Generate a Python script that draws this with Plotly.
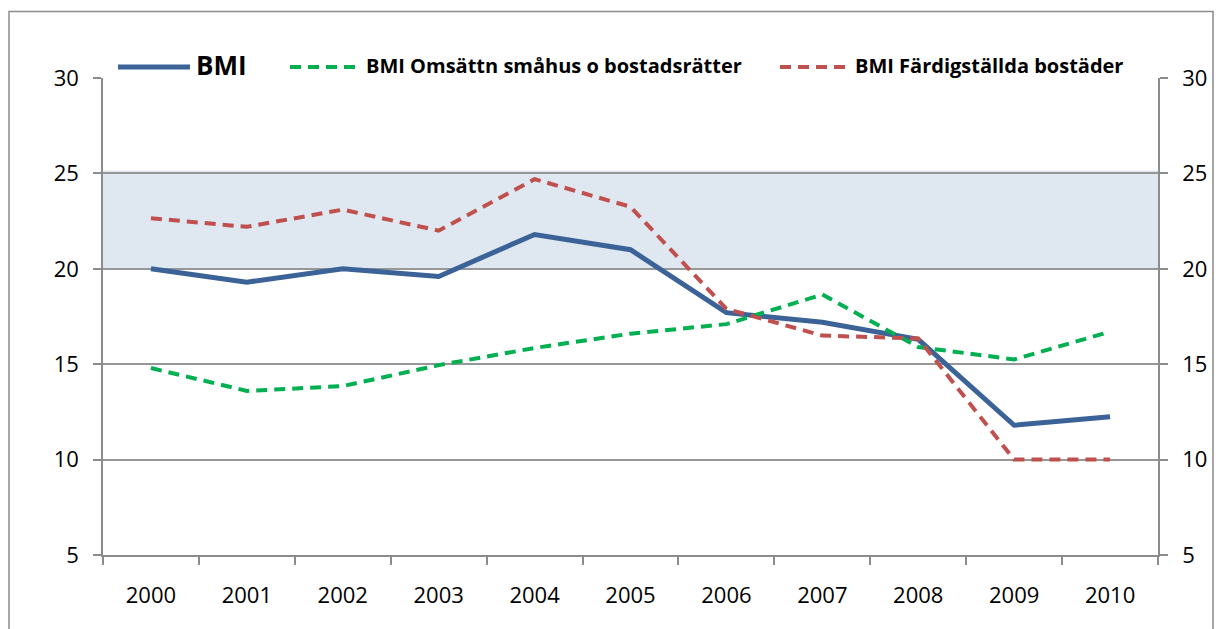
import plotly.graph_objects as go

years = ["2000", "2001", "2002", "2003", "2004", "2005", "2006", "2007", "2008", "2009", "2010"]
bmi = [20.0, 19.3, 20.0, 19.6, 21.8, 21.0, 17.7, 17.2, 16.3, 11.8, 12.25]
bmi_omsattn = [14.8, 13.6, 13.85, 14.95, 15.85, 16.6, 17.1, 18.65, 15.9, 15.25, 16.7]
bmi_fardig = [22.65, 22.2, 23.1, 22.0, 24.7, 23.25, 17.9, 16.5, 16.35, 10.0, 10.0]
band_low, band_high = 20.0, 25.15
y_ticks = [5, 10, 15, 20, 25, 30]

names = ["BMI", "BMI Omsättn småhus o bostadsrätter", "BMI Färdigställda bostäder"]
colors = ["#3b6397", "#00b050", "#c0504d"]

OFF = 8  # page body margin
W, H = 1222 - OFF, 629 - OFF
L, R, T, B = 103 - OFF, 1158 - OFF, 78 - OFF, 555 - OFF


def px(x):
    return (x - OFF - L) / (R - L)


def py(y):
    return (B - (y - OFF)) / (B - T)


fig = go.Figure()
fig.add_trace(go.Scatter(x=years, y=bmi, mode="lines", name=names[0],
                         line=dict(color=colors[0], width=5), showlegend=False))
fig.add_trace(go.Scatter(x=years, y=bmi_omsattn, mode="lines", name=names[1],
                         line=dict(color=colors[1], width=4, dash="11px,7px"), showlegend=False))
fig.add_trace(go.Scatter(x=years, y=bmi_fardig, mode="lines", name=names[2],
                         line=dict(color=colors[2], width=4, dash="11px,7px"), showlegend=False))
fig.add_trace(go.Scatter(x=years, y=bmi, yaxis="y2", mode="lines",
                         line=dict(width=0), opacity=0, showlegend=False, hoverinfo="skip"))

shapes = [
    dict(type="rect", xref="paper", yref="y", x0=0, x1=1, y0=band_low, y1=band_high,
         fillcolor="#dfe7f1", line=dict(width=0), layer="below"),
    dict(type="rect", xref="paper", yref="paper", x0=px(9), x1=px(1213), y0=py(660), y1=py(11.5),
         line=dict(color="#8c8c8c", width=1.5), fillcolor="rgba(0,0,0,0)", layer="below"),
]

# manual legend
leg_y = py(67)
legend_items = [
    (118, 190, 194, 26),
    (290, 356, 364, 20),
    (780, 846, 853, 20),
]
annotations = []
for i, (x0, x1, tx, fs) in enumerate(legend_items):
    shapes.append(dict(type="line", xref="paper", yref="paper", x0=px(x0), x1=px(x1),
                       y0=leg_y, y1=leg_y,
                       line=dict(color=colors[i], width=5 if i == 0 else 4,
                                 dash="solid" if i == 0 else "11px,7px")))
    annotations.append(dict(xref="paper", yref="paper", x=px(tx), y=py(65), xanchor="left",
                            yanchor="middle", showarrow=False,
                            text="<b>" + names[i] + "</b>",
                            font=dict(size=fs, color="#000000", family="Open Sans")))

axis_font = dict(family="Open Sans", size=22, color="#000000")
fig.update_layout(
    width=W, height=H,
    margin=dict(l=L, r=W - R, t=T, b=H - B),
    paper_bgcolor="white", plot_bgcolor="white",
    font=axis_font,
    shapes=shapes,
    annotations=annotations,
    xaxis=dict(type="category", range=[-0.5, 10.5], tickson="boundaries",
               ticks="outside", ticklen=8, tickcolor="#8c8c8c", tickwidth=1.5,
               showline=True, linecolor="#8c8c8c", linewidth=1.5,
               showgrid=False, tickfont=axis_font, ticklabelstandoff=20),
    yaxis=dict(range=[5, 30], tickvals=y_ticks, ticks="outside", ticklen=8,
               tickcolor="#8c8c8c", tickwidth=1.5, showline=True, linecolor="#8c8c8c",
               linewidth=1.5, showgrid=True, gridcolor="#979797", gridwidth=1.5,
               zeroline=False, tickfont=axis_font, ticklabelstandoff=10),
    yaxis2=dict(range=[5, 30], tickvals=y_ticks, overlaying="y", side="right",
                ticks="outside", ticklen=8, tickcolor="#8c8c8c", tickwidth=1.5,
                showline=True, linecolor="#8c8c8c", linewidth=1.5, showgrid=False,
                zeroline=False, tickfont=axis_font, ticklabelstandoff=10),
)

fig.write_html("out.html")
